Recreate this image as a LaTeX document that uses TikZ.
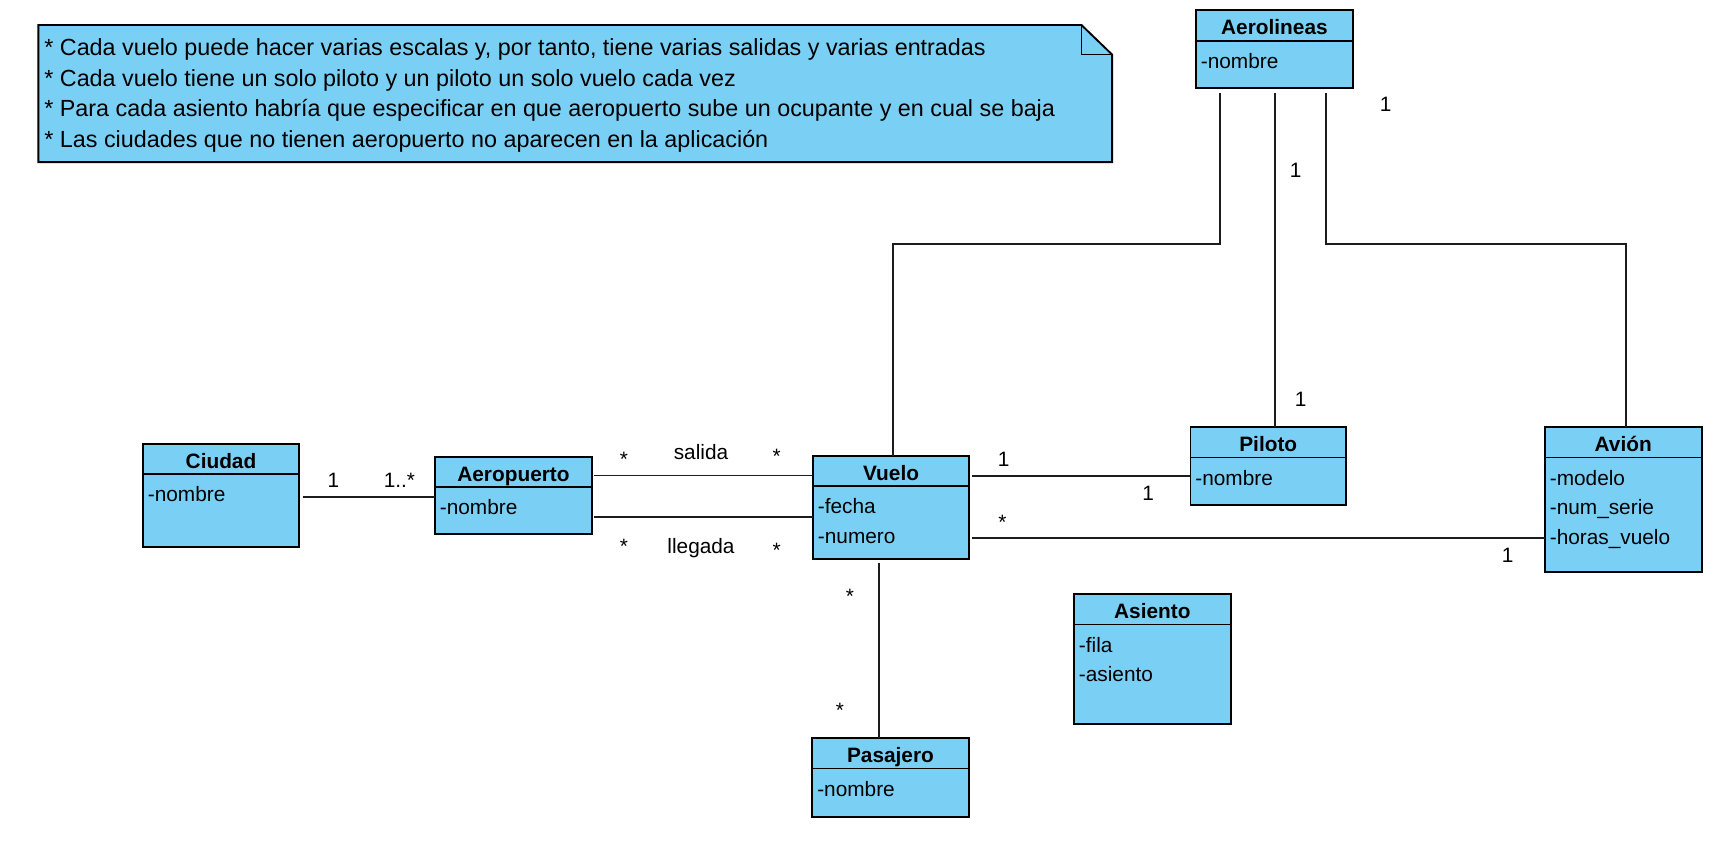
\documentclass[tikz,border=0pt]{standalone}
\usepackage{fontspec}
\setmainfont{Liberation Sans}
\usetikzlibrary{fit,calc}
\definecolor{umlblue}{RGB}{122,207,245}
\definecolor{umlline}{RGB}{28,28,28}
\newcommand{\umlclass}[8]{% name, title, x1, y1, x2, ydiv, y2, attrs
  \node[classbox, fit={(#3,#4) (#5,#7)}] (#1) {};
  \draw[divline] (#3,#6) -- (#5,#6);
  \node[txt, font=\fontsize{19}{23}\selectfont\bfseries] (#1-t) at ({(#3+#5)/2},{(#4+#6)/2+1.4}) {#2};
  \foreach \a [count=\i] in {#8} {
    \node[txt, anchor=west] (#1-a\i) at ({#3+4.5},{#6+18.5+27*(\i-1)}) {\a};
  }
}
\begin{document}
\begin{tikzpicture}[x=1pt,y=-1pt,
  txt/.style={font=\fontsize{19}{23}\selectfont, inner sep=0pt, outer sep=0pt, text height=13.7pt, text depth=0pt},
  notetxt/.style={font=\fontsize{21.3}{25}\selectfont, inner sep=0pt, outer sep=0pt, text height=15.3pt, text depth=0pt, anchor=west},
  lbl/.style={txt},
  starlbl/.style={txt, yshift=-4.2pt},
  classbox/.style={draw=black, line width=1.7pt, fill=umlblue, inner sep=0pt, outer sep=0pt},
  divline/.style={draw=black, line width=1.5pt},
  conn/.style={draw=umlline, line width=1.7pt}]
\useasboundingbox (0,0) rectangle (1568,769.4);

% note
\node[fit={(35,22.8) (1015,148)}, inner sep=0pt, outer sep=0pt] (note) {};
\draw[fill=umlblue, line width=1.7pt, line join=miter]
  (note.north west) -- ([xshift=-28pt]note.north east) -- ([yshift=-27pt]note.north east)
  -- (note.south east) -- (note.south west) -- cycle;
\draw[line width=1.4pt] ([xshift=-28pt]note.north east) -- ([xshift=-28pt,yshift=-27pt]note.north east) -- ([yshift=-27pt]note.north east);
\node[notetxt] (n1) at (40.5,42.6) {* Cada vuelo puede hacer varias escalas y, por tanto, tiene varias salidas y varias entradas};
\node[notetxt] (n2) at (40.5,70.9) {* Cada vuelo tiene un solo piloto y un piloto un solo vuelo cada vez};
\node[notetxt] (n3) at (40.5,98.9) {* Para cada asiento habría que especificar en que aeropuerto sube un ocupante y en cual se baja};
\node[notetxt] (n4) at (40.5,126.9) {* Las ciudades que no tienen aeropuerto no aparecen en la aplicación};

% classes
\umlclass{aerolineas}{Aerolineas}{1091.5}{9.1}{1234.8}{37.4}{80.3}{-nombre}
\umlclass{ciudad}{Ciudad}{130.5}{405.2}{272.9}{432.6}{499.2}{-nombre}
\umlclass{aero}{Aeropuerto}{397}{417.1}{540.3}{444.5}{487.4}{-nombre}
\umlclass{vuelo}{Vuelo}{742}{416.5}{884.5}{443.5}{510.5}{-fecha,-numero}
\umlclass{piloto}{Piloto}{1086.5}{390}{1228.5}{417.4}{460.8}{-nombre}
\umlclass{avion}{Avión}{1410}{390}{1553}{417.4}{521.7}{-modelo,-num\_serie,-horas\_vuelo}
\umlclass{asiento}{Asiento}{980.2}{542.1}{1123.2}{569.8}{661}{-fila,-asiento}
\umlclass{pasajero}{Pasajero}{741.4}{673.8}{884}{701.5}{745.3}{-nombre}

% connectors
\draw[conn] ([xshift=3.3pt,yshift=-48.4pt]ciudad.north east) coordinate (c1) -- (c1 -| aero.west);
\draw[conn] ([xshift=2pt,yshift=-16.9pt]aero.north east) coordinate (s1) -- (s1 -| vuelo.west);
\draw[conn] ([xshift=2pt,yshift=-54.4pt]aero.north east) coordinate (l1) -- (l1 -| vuelo.west);
\draw[conn] ([xshift=2.5pt,yshift=-17.9pt]vuelo.north east) coordinate (p1) -- (p1 -| piloto.west);
\draw[conn] ([xshift=2.5pt,yshift=-74.8pt]vuelo.north east) coordinate (v1) -- (v1 -| avion.west);
\draw[conn] ([xshift=-10.7pt,yshift=-3pt]vuelo.south) coordinate (q1) -- (q1 |- pasajero.north);
\draw[conn] ([xshift=-49.7pt,yshift=-4.9pt]aerolineas.south) -- ++(0,137.5) -| ([xshift=1.8pt]vuelo.north);
\draw[conn] ([xshift=0.5pt,yshift=-4.9pt]aerolineas.south) coordinate (m1) -- (m1 |- piloto.north);
\draw[conn] ([xshift=47pt,yshift=-4.9pt]aerolineas.south) -- ++(0,137.5) -| ([xshift=2.2pt]avion.north);

% labels
\node[lbl] (l-c1) at (304.2,438) {1};
\node[lbl] (l-c2) at (364.5,438) {1..*};
\node[starlbl] (l-s1) at (569.5,414.6) {*};
\node[lbl] (l-s2) at (639.8,412.2) {salida};
\node[starlbl] (l-s3) at (708.8,411.6) {*};
\node[starlbl] (l-ll1) at (569.5,494.4) {*};
\node[lbl] (l-ll2) at (639.8,498.3) {llegada};
\node[starlbl] (l-ll3) at (708.8,498) {*};
\node[lbl] (l-p1) at (916,419) {1};
\node[lbl] (l-p2) at (1048,449.7) {1};
\node[starlbl] (l-v1) at (915,472) {*};
\node[lbl] (l-v2) at (1376,506.5) {1};
\node[starlbl] (l-q1) at (775.8,540) {*};
\node[starlbl] (l-q2) at (766.6,644) {*};
\node[lbl] (l-a1) at (1264.7,95) {1};
\node[lbl] (l-a2) at (1182.5,155) {1};
\node[lbl] (l-a3) at (1187,364) {1};
\end{tikzpicture}
\end{document}
